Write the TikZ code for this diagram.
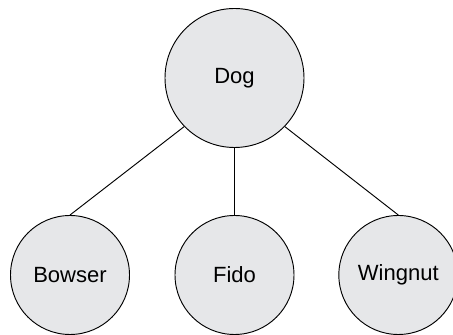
\documentclass[tikz,border=0pt]{standalone}
\usepackage{fontspec}
\setmainfont{Liberation Sans}
\definecolor{nodegray}{RGB}{230,231,233}
\tikzset{
  pet/.style={circle,draw=black,fill=nodegray,line width=0.8pt,inner sep=0pt,
    minimum size=3.57cm,font=\fontsize{18.8}{22}\selectfont},
  root/.style={pet,minimum size=4.17cm}
}
\begin{document}
\begin{tikzpicture}
\useasboundingbox (0,0) rectangle (13.59,10.05);
\def \r{1.8}
\node[root] (dog) at (7.035,7.71) {Dog};
\node[pet] (bowser) at (2.1,\r) {Bowser};
\node[pet] (fido) at (7.035,\r) {Fido};
\node[pet] (wingnut) at (11.95,\r) {Wingnut};

\draw[line width=0.8pt] (dog.-136)--(bowser.north);
\draw[line width=0.8pt] (dog.south)--(fido.north);
\draw[line width=0.8pt] (dog.-44)--(wingnut.north);
\end{tikzpicture}
\end{document}
